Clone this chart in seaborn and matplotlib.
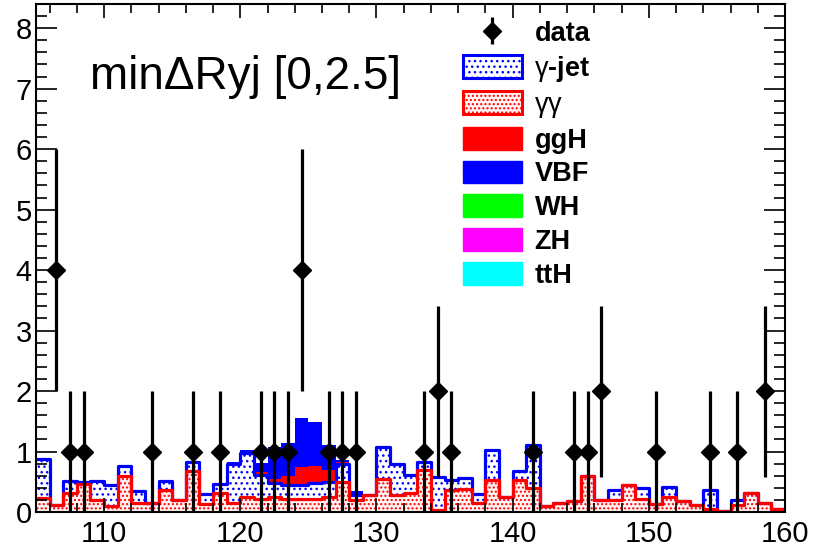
import numpy as np
import pandas as pd
import matplotlib
matplotlib.use("Agg")
import matplotlib.pyplot as plt
import seaborn as sns
from matplotlib.patches import Patch
from matplotlib.ticker import MultipleLocator

# 1 GeV mass bins from 105 to 160 GeV
edges = list(range(105, 161))
centers = np.arange(105, 160) + 0.5

# expected events per bin
gamma_gamma = [0.23, 0.12, 0.32, 0.47, 0.20, 0.10, 0.60, 0.15, 0.15, 0.36,
               0.20, 0.68, 0.14, 0.32, 0.15, 0.25, 0.22, 0.25, 0.22, 0.22,
               0.22, 0.25, 0.50, 0.20, 0.28, 0.54, 0.28, 0.31, 0.69, 0.03,
               0.36, 0.38, 0.15, 0.53, 0.24, 0.53, 0.39, 0.10, 0.15, 0.19,
               0.60, 0.20, 0.20, 0.45, 0.21, 0.13, 0.25, 0.19, 0.12, 0.05,
               0.02, 0.12, 0.31, 0.15, 0.05]
gamma_jet = [0.64, 0.00, 0.20, 0.03, 0.32, 0.35, 0.16, 0.19, 0.00, 0.16,
             0.00, 0.15, 0.16, 0.15, 0.65, 0.73, 0.40, 0.23, 0.23, 0.23,
             0.26, 0.25, 0.30, 0.08, 0.00, 0.54, 0.51, 0.31, 0.14, 0.55,
             0.17, 0.18, 0.15, 0.49, 0.00, 0.14, 0.72, 0.00, 0.00, 0.00,
             0.00, 0.00, 0.16, 0.00, 0.18, 0.00, 0.16, 0.00, 0.00, 0.31,
             0.00, 0.08, 0.00, 0.00, 0.00]
ggH = [0, 0, 0, 0, 0, 0, 0, 0, 0, 0,
       0, 0, 0, 0, 0.00, 0.01, 0.04, 0.06, 0.15, 0.30,
       0.28, 0.20, 0.03, 0.00, 0, 0, 0, 0, 0, 0,
       0, 0, 0, 0, 0, 0, 0, 0, 0, 0,
       0, 0, 0, 0, 0, 0, 0, 0, 0, 0,
       0, 0, 0, 0, 0]
VBF = [0, 0, 0, 0, 0, 0, 0, 0, 0, 0,
       0, 0, 0, 0, 0.02, 0.03, 0.15, 0.54, 0.54, 0.80,
       0.73, 0.41, 0.03, 0.06, 0, 0, 0, 0, 0, 0,
       0, 0, 0, 0, 0, 0, 0, 0, 0, 0,
       0, 0, 0, 0, 0, 0, 0, 0, 0, 0,
       0, 0, 0, 0, 0]
# the remaining production modes are negligible in this category
WH = [0.0] * 55
ZH = [0.0] * 55
ttH = [0.0] * 55

# observed events per bin
data = [0, 4, 1, 1, 0, 0, 0, 0, 1, 0,
        0, 1, 0, 1, 0, 0, 1, 1, 1, 4,
        0, 1, 1, 1, 0, 0, 0, 0, 1, 2,
        1, 0, 0, 0, 0, 0, 1, 0, 0, 1,
        1, 2, 0, 0, 0, 1, 0, 0, 0, 1,
        0, 1, 0, 2, 0]

sns.set_style("ticks")
plt.rcParams["font.family"] = ["Liberation Sans", "DejaVu Sans"]
plt.rcParams["text.color"] = "black"
plt.rcParams["mathtext.fontset"] = "custom"
plt.rcParams["mathtext.rm"] = "Liberation Sans"
plt.rcParams["mathtext.it"] = "Liberation Sans:italic"
plt.rcParams["mathtext.bf"] = "Liberation Sans:bold"
plt.rcParams["hatch.linewidth"] = 1.0

fig = plt.figure(figsize=(8.14, 5.49), dpi=100)
ax = fig.add_axes([36 / 814, 37 / 549, 749 / 814, 508 / 549])

BLUE = "#0000ff"
RED = "#ff0000"

# stacked cumulative levels, bottom to top
levels = {}
running = np.zeros(len(centers))
for name, vals in [("gg", gamma_gamma), ("gj", gamma_jet), ("ggH", ggH),
                   ("VBF", VBF), ("WH", WH), ("ZH", ZH), ("ttH", ttH)]:
    running = running + np.asarray(vals, dtype=float)
    levels[name] = running.copy()


def frame_of(level):
    return pd.DataFrame({"mass": centers, "w": level})


def fill_layer(level, face, edge, hatch=None):
    sns.histplot(data=frame_of(level), x="mass", weights="w", bins=edges,
                 element="step", fill=True, facecolor=face, edgecolor=edge,
                 linewidth=0, hatch=hatch, ax=ax)


def outline_layer(level, color):
    sns.histplot(data=frame_of(level), x="mass", weights="w", bins=edges,
                 element="step", fill=False, color=color, linewidth=2.3,
                 ax=ax)


# draw from the top of the stack downwards
fill_layer(levels["ttH"], "#00ffff", "#00ffff")
fill_layer(levels["ZH"], "#ff00ff", "#ff00ff")
fill_layer(levels["WH"], "#00ff00", "#00ff00")
fill_layer(levels["VBF"], BLUE, BLUE)
fill_layer(levels["ggH"], RED, RED)
fill_layer(levels["gj"], "white", BLUE, hatch="...")
outline_layer(levels["gj"], BLUE)
fill_layer(levels["gg"], "#fff4f4", RED, hatch="....")
outline_layer(levels["gg"], RED)

# observed data with Poisson errors
counts = np.asarray(data, dtype=float)
mask = counts > 0
err = ax.errorbar(centers[mask], counts[mask], yerr=np.sqrt(counts[mask]),
                  fmt="D", color="black", markersize=9.5, elinewidth=2.3,
                  capsize=0, zorder=5)

ax.set_xlim(105, 160)
ax.set_ylim(0, 8.4)
ax.set_xlabel("")
ax.set_ylabel("")
ax.xaxis.set_major_locator(MultipleLocator(10))
ax.xaxis.set_minor_locator(MultipleLocator(2))
ax.yaxis.set_major_locator(MultipleLocator(1))
ax.yaxis.set_minor_locator(MultipleLocator(0.2))
ax.tick_params(which="both", direction="in", top=True, right=True,
               width=1.2, labelsize=21, colors="black")
ax.tick_params(axis="x", which="major", length=10, pad=6)
ax.tick_params(axis="x", which="minor", length=6.5)
ax.tick_params(axis="y", which="major", length=15, pad=3)
ax.tick_params(axis="y", which="minor", length=8)
for s in ax.spines.values():
    s.set_linewidth(1.5)
    s.set_color("black")
ax.set_axisbelow(False)

ax.text(0.072, 0.833, "min\u0394Ryj [0,2.5]", transform=ax.transAxes,
        fontsize=33, va="baseline", ha="left", color="black")

handles = [
    err,
    Patch(facecolor="white", edgecolor=BLUE, hatch="...", linewidth=2.2),
    Patch(facecolor="#fff4f4", edgecolor=RED, hatch="....", linewidth=2.2),
    Patch(facecolor=RED, edgecolor=RED),
    Patch(facecolor=BLUE, edgecolor=BLUE),
    Patch(facecolor="#00ff00", edgecolor="#00ff00"),
    Patch(facecolor="#ff00ff", edgecolor="#ff00ff"),
    Patch(facecolor="#00ffff", edgecolor="#00ffff"),
]
labels = ["data", r"$\mathrm{\gamma}$-jet", r"$\mathrm{\gamma\gamma}$",
          "ggH", "VBF", "WH", "ZH", "ttH"]
ax.legend(handles, labels, loc="upper left", bbox_to_anchor=(0.5697, 0.968),
          frameon=False, borderpad=0, borderaxespad=0,
          handlelength=2.2, handleheight=0.92, handletextpad=0.45,
          labelspacing=0.26,
          prop={"family": "Liberation Sans", "weight": "bold", "size": 19.5})

fig.savefig("out.png", dpi=100)
